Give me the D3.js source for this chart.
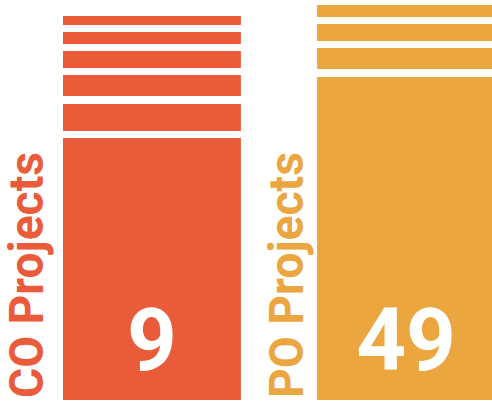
<html>
<head>
    <script src="https://cdn.jsdelivr.net/npm/d3@7"></script>
    <style>
        body,
        html {
            padding: 0px;
            margin: 0px;
            background-color: white;
            font-family: Roboto, "Noto Sans", sans-serif;
        }

        .label {
            font-weight: bold;
            font-size: 48px;
        }

        .value {
            font-weight: bold;
            font-size: 87px;
            fill: white;
            text-anchor: middle;
        }
    </style>
</head>

<body>
    <div id="container"></div>
    <script>
        const categories = ["CO Projects", "PO Projects"];
        const values = [9, 49];
        // stripes of each bar, in units counted up from the bottom
        const coSegments = [[0, 262], [269, 296], [304, 325], [332, 349], [356, 368], [375, 384]];
        const poSegments = [[0, 323], [331, 352], [359, 376], [383, 395]];

        const segments = [coSegments, poSegments];
        const colors = ["#EA5B3A", "#EBA63F"];

        const width = 492;
        const height = 403;

        const svg = d3.select("#container").append("svg")
            .attr("width", width)
            .attr("height", height);

        const x = d3.scaleBand()
            .domain(categories)
            .range([63, 495])
            .paddingInner(0.3);

        const y = d3.scaleLinear()
            .domain([0, 400])
            .range([400, 0]);

        const groups = svg.selectAll("g.bar")
            .data(categories)
            .join("g")
            .attr("class", "bar");

        groups.selectAll("rect")
            .data((d, i) => segments[i].map(s => ({ cat: d, i: i, s: s })))
            .join("rect")
            .attr("x", d => x(d.cat))
            .attr("width", x.bandwidth())
            .attr("y", d => y(d.s[1]))
            .attr("height", d => y(d.s[0]) - y(d.s[1]))
            .attr("fill", d => colors[d.i]);

        // value number inside the bar
        groups.append("text")
            .attr("class", "value")
            .attr("x", d => x(d) + x.bandwidth() / 2)
            .attr("y", 370)
            .text((d, i) => values[i]);

        // vertical category labels
        groups.append("text")
            .attr("class", "label")
            .attr("fill", (d, i) => colors[i])
            .attr("transform", (d, i) => `translate(${x(d) - (i === 0 ? 20 : 14)},398) rotate(-90)`)
            .attr("textLength", 246)
            .attr("lengthAdjust", "spacingAndGlyphs")
            .text(d => d);
    </script>
</body>
</html>
